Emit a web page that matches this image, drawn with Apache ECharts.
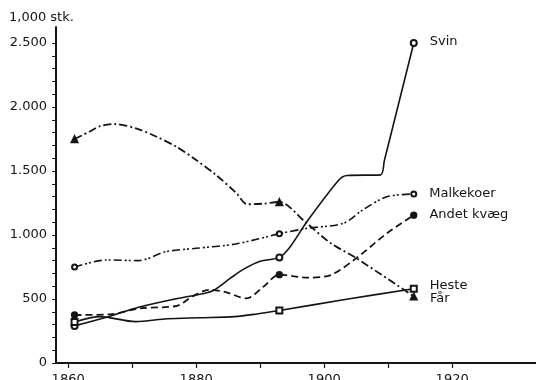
<!DOCTYPE html>
<html>
<head>
<meta charset="utf-8">
<script src="https://cdn.jsdelivr.net/npm/echarts@6/dist/echarts.min.js"></script>
<style>
  html, body { margin: 0; padding: 0; background: #fff; }
  #chart { width: 536px; height: 380px; }
</style>
</head>
<body>
<div id="chart"></div>
<script>
// Husdyrbestanden i Danmark 1861-1914 (1.000 stk.)
const censusYears = [1861, 1893, 1914];

const svinYears  = [1861, 1866, 1871, 1876.4, 1880, 1882.6, 1885.3, 1887.5, 1890, 1893, 1894.7, 1897.3, 1902.3, 1903.6, 1908.8, 1909.4, 1914];
const svinValues = [290, 357, 435, 497, 531, 565, 661, 735, 795, 825, 909, 1104, 1430, 1465, 1470, 1580, 2500];

const malkeYears  = [1861, 1866, 1871, 1875.3, 1880, 1886.2, 1893, 1897.3, 1903, 1906, 1909.8, 1914];
const malkeValues = [750, 805, 800, 870, 896, 930, 1010, 1052, 1091, 1195, 1299, 1320];

const andetYears  = [1861, 1866.5, 1871.2, 1877, 1879.4, 1882, 1884.5, 1887.9, 1890.5, 1893, 1897.3, 1901, 1905, 1909.8, 1914];
const andetValues = [375, 380, 427, 447, 520, 572, 555, 505, 596, 690, 667, 687, 818, 1013, 1155];

const hesteYears  = [1861, 1865, 1870.5, 1875.5, 1880.5, 1886, 1889.5, 1893, 1903.5, 1914];
const hesteValues = [320, 362, 323, 346, 354, 362, 383, 410, 498, 580];

const faarYears  = [1861, 1863.3, 1865, 1867.2, 1870.6, 1873.8, 1876.9, 1880, 1883.1, 1886.3, 1888, 1890.5, 1893, 1897, 1901, 1905, 1914];
const faarValues = [1750, 1807, 1851, 1867, 1833, 1768, 1690, 1586, 1469, 1326, 1240, 1245, 1258, 1104, 937, 820, 520];

const yLabelValues = [0, 500, 1000, 1500, 2000, 2500];
const yTickValues  = Array.from({ length: 26 }, (_, i) => i * 100);
const xLabelValues = [1860, 1880, 1900, 1920];
const xTickValues  = [1860, 1870, 1880, 1890, 1900, 1910, 1920];

const ink = '#141414';
const fontFamily = 'DejaVu Sans';

function buildData(years, values, name, labelOffset) {
  return years.map((yr, i) => {
    const item = { value: [yr, values[i]] };
    if (!censusYears.includes(yr)) item.symbol = 'none';
    if (i === years.length - 1) {
      item.label = {
        show: true,
        position: 'right',
        distance: 12,
        offset: labelOffset,
        formatter: name,
        color: ink,
        fontFamily: fontFamily,
        fontSize: 13
      };
    }
    return item;
  });
}

function lineSeries(name, years, values, opts) {
  return {
    name: name,
    type: 'line',
    smooth: 0.3,
    symbol: opts.symbol,
    symbolSize: opts.symbolSize,
    showAllSymbol: true,
    itemStyle: { color: ink, borderColor: ink, borderWidth: 1.3 },
    lineStyle: { color: ink, width: opts.width || 1.6, type: opts.dash || 'solid' },
    emphasis: { disabled: true },
    silent: true,
    data: buildData(years, values, name, opts.labelOffset || [0, 0])
  };
}

const chart = echarts.init(document.getElementById('chart'), null, { renderer: 'canvas' });

chart.setOption({
  animation: false,
  backgroundColor: '#fff',
  title: {
    text: '1,000 stk.',
    left: 9,
    top: 11,
    padding: 0,
    textStyle: { color: ink, fontFamily: fontFamily, fontSize: 13, fontWeight: 'normal' }
  },
  grid: { left: 56, right: 0, top: 27, bottom: 17, containLabel: false, outerBoundsMode: 'none' },
  xAxis: {
    type: 'value',
    min: 1858.1,
    max: 1933.1,
    axisLine: { lineStyle: { color: ink, width: 2 } },
    axisTick: { show: true, length: 5, customValues: xTickValues, lineStyle: { color: ink, width: 1.2 } },
    axisLabel: {
      customValues: xLabelValues,
      formatter: v => String(v),
      color: ink, fontFamily: fontFamily, fontSize: 13, margin: 10
    },
    splitLine: { show: false }
  },
  yAxis: {
    type: 'value',
    min: 0,
    max: 2625,
    axisLine: { show: true, lineStyle: { color: ink, width: 2 } },
    axisTick: { show: true, length: 4, customValues: yTickValues, lineStyle: { color: ink, width: 1 } },
    axisLabel: {
      customValues: yLabelValues,
      formatter: v => v >= 1000 ? Math.floor(v / 1000) + '.' + String(v % 1000).padStart(3, '0') : String(v),
      color: ink, fontFamily: fontFamily, fontSize: 13, margin: 9
    },
    splitLine: { show: false }
  },
  series: [
    lineSeries('Svin', svinYears, svinValues, { symbol: 'emptyCircle', symbolSize: 6, labelOffset: [0, -1] }),
    lineSeries('Malkekoer', malkeYears, malkeValues, { symbol: 'emptyCircle', symbolSize: 5, dash: [8, 3, 2, 2, 2, 3], labelOffset: [0, 0] }),
    lineSeries('Andet kvæg', andetYears, andetValues, { symbol: 'circle', symbolSize: 6, dash: [7, 4], width: 1.8, labelOffset: [0, -1] }),
    lineSeries('Heste', hesteYears, hesteValues, { symbol: 'emptyRect', symbolSize: 6, labelOffset: [0, -3] }),
    lineSeries('Får', faarYears, faarValues, { symbol: 'triangle', symbolSize: 7, dash: [8, 3, 2, 3], width: 1.8, labelOffset: [0, 2] })
  ]
});
</script>
</body>
</html>
